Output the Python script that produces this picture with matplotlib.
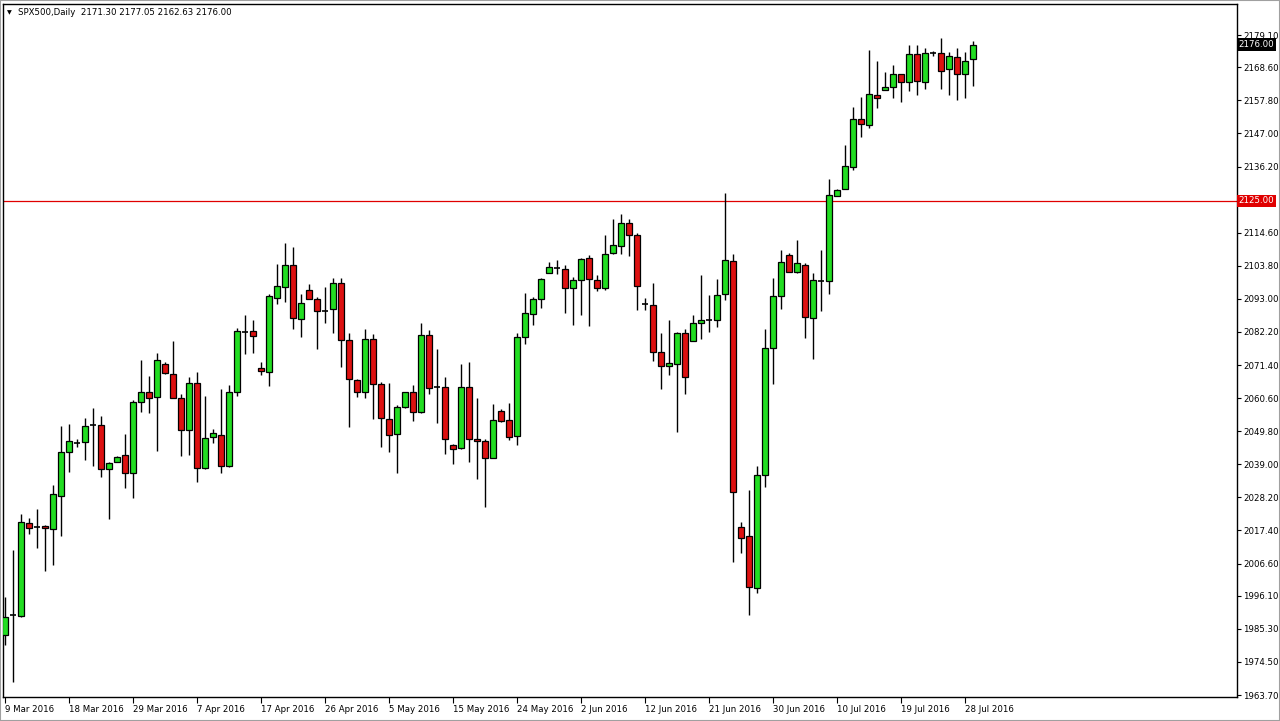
import matplotlib
matplotlib.use("Agg")
import matplotlib.pyplot as plt
from matplotlib.patches import Rectangle

plt.rcParams["font.family"] = ["DejaVu Sans"]

# ---- data ----
opens = [1983.3, 1989.7, 1989.6, 2019.7, 2018.6, 2018.9, 2018.0, 2028.7, 2042.9, 2046.1,
         2046.2, 2051.9, 2051.8, 2037.4, 2039.8, 2042.2, 2036.1, 2059.2, 2062.5, 2060.9,
         2071.9, 2068.6, 2060.8, 2050.1, 2065.7, 2037.7, 2048.0, 2048.7, 2038.5, 2062.7,
         2082.2, 2082.6, 2070.4, 2069.2, 2093.4, 2097.0, 2104.1, 2086.3, 2096.0, 2093.1,
         2089.1, 2089.6, 2098.1, 2079.5, 2066.4, 2062.7, 2079.8, 2065.1, 2053.9, 2048.8,
         2057.7, 2062.5, 2056.2, 2081.1, 2064.2, 2064.2, 2045.4, 2044.2, 2064.3, 2047.1,
         2046.5, 2041.2, 2056.4, 2053.5, 2048.3, 2080.6, 2087.9, 2093.1, 2101.5, 2103.1,
         2102.6, 2096.6, 2099.0, 2106.2, 2099.3, 2096.4, 2108.0, 2110.3, 2117.9, 2113.9,
         2091.3, 2090.9, 2075.5, 2071.2, 2071.9, 2081.7, 2079.1, 2085.0, 2086.2, 2086.0,
         2094.5, 2105.4, 2018.6, 2015.6, 1998.5, 2035.5, 2076.9, 2093.9, 2107.2, 2101.8,
         2104.2, 2086.6, 2098.9, 2098.8, 2126.7, 2128.8, 2135.9, 2151.7, 2149.6, 2159.5,
         2161.2, 2162.2, 2166.3, 2163.9, 2172.8, 2163.9, 2173.3, 2173.1, 2167.9, 2172.1,
         2166.5, 2171.30]
highs = [1995.8, 2011.0, 2022.7, 2021.6, 2024.4, 2019.2, 2032.1, 2051.5, 2052.1, 2047.2,
         2054.2, 2057.3, 2054.8, 2039.6, 2041.7, 2048.8, 2060.0, 2072.9, 2067.7, 2075.2,
         2072.3, 2079.2, 2061.9, 2067.6, 2069.0, 2061.4, 2050.5, 2063.6, 2064.9, 2083.6,
         2087.7, 2086.1, 2072.3, 2094.6, 2104.3, 2111.1, 2109.8, 2094.5, 2097.8, 2093.7,
         2097.0, 2099.7, 2099.8, 2081.8, 2066.8, 2083.1, 2081.4, 2065.9, 2065.4, 2058.5,
         2062.6, 2064.8, 2085.0, 2082.8, 2076.5, 2067.4, 2045.5, 2071.9, 2072.3, 2060.5,
         2047.1, 2058.6, 2057.1, 2059.1, 2081.7, 2094.8, 2093.7, 2099.9, 2105.1, 2105.7,
         2104.2, 2100.2, 2106.2, 2107.3, 2100.9, 2114.0, 2119.0, 2120.7, 2119.0, 2114.5,
         2093.3, 2098.1, 2081.7, 2086.1, 2082.2, 2083.2, 2087.6, 2100.8, 2094.3, 2099.5,
         2127.4, 2107.6, 2020.3, 2030.6, 2038.4, 2083.2, 2099.7, 2109.0, 2107.9, 2112.2,
         2104.6, 2101.3, 2109.0, 2132.0, 2129.0, 2143.2, 2155.6, 2159.0, 2174.2, 2170.6,
         2166.9, 2169.3, 2166.3, 2175.9, 2175.9, 2174.8, 2174.0, 2178.1, 2173.5, 2174.8,
         2173.7, 2177.05]
lows = [1980.0, 1968.0, 1989.2, 2016.1, 2011.6, 2004.3, 2006.1, 2015.7, 2036.6, 2044.7,
        2040.4, 2038.4, 2034.9, 2021.3, 2039.6, 2031.2, 2027.9, 2056.1, 2055.6, 2043.2,
        2068.4, 2060.5, 2041.8, 2042.2, 2033.1, 2037.5, 2045.8, 2036.1, 2038.2, 2061.4,
        2074.9, 2075.2, 2068.3, 2064.7, 2091.3, 2091.9, 2083.2, 2080.6, 2093.1, 2076.7,
        2085.1, 2082.0, 2070.6, 2051.3, 2061.1, 2060.7, 2053.7, 2044.7, 2043.1, 2036.0,
        2057.5, 2053.2, 2055.8, 2061.8, 2052.6, 2042.4, 2039.2, 2044.0, 2039.9, 2034.1,
        2025.2, 2041.2, 2052.9, 2046.9, 2045.3, 2078.4, 2084.5, 2089.9, 2101.3, 2101.1,
        2088.3, 2084.5, 2087.7, 2084.1, 2095.6, 2096.0, 2107.5, 2107.5, 2107.1, 2089.4,
        2089.4, 2072.8, 2063.5, 2068.3, 2049.6, 2061.8, 2079.1, 2079.8, 2082.2, 2083.8,
        2092.6, 2007.0, 2010.0, 1989.8, 1996.9, 2031.5, 2065.1, 2089.6, 2101.7, 2101.5,
        2080.1, 2073.3, 2089.0, 2094.5, 2126.7, 2128.8, 2135.1, 2145.9, 2148.8, 2155.4,
        2161.2, 2158.7, 2157.4, 2160.9, 2159.4, 2161.5, 2172.4, 2161.5, 2159.6, 2157.8,
        2158.7, 2162.63]
closes = [1989.3, 1989.7, 2020.3, 2018.3, 2018.6, 2018.2, 2029.2, 2042.9, 2046.7, 2046.1,
          2051.6, 2051.9, 2037.4, 2039.3, 2041.5, 2036.1, 2059.2, 2062.5, 2060.8, 2073.2,
          2068.9, 2060.7, 2050.1, 2065.7, 2037.7, 2047.5, 2049.2, 2038.5, 2062.5, 2082.5,
          2082.2, 2080.9, 2069.3, 2093.8, 2097.1, 2104.1, 2086.7, 2091.5, 2093.1, 2089.2,
          2089.1, 2098.1, 2079.5, 2066.7, 2062.7, 2079.8, 2065.1, 2054.2, 2048.7, 2057.7,
          2062.5, 2056.2, 2081.1, 2064.0, 2064.2, 2047.4, 2044.1, 2064.3, 2047.1, 2046.5,
          2041.2, 2053.3, 2053.2, 2048.0, 2080.4, 2088.3, 2093.1, 2099.5, 2103.3, 2103.1,
          2096.5, 2099.2, 2106.0, 2099.4, 2096.4, 2107.8, 2110.5, 2117.9, 2113.9, 2097.2,
          2091.3, 2075.5, 2071.2, 2072.1, 2081.7, 2067.4, 2085.0, 2086.0, 2086.2, 2094.3,
          2105.7, 2029.9, 2015.1, 1998.9, 2035.5, 2076.9, 2093.9, 2105.0, 2101.7, 2104.6,
          2087.0, 2099.2, 2098.9, 2126.9, 2128.4, 2136.4, 2151.7, 2150.0, 2159.8, 2158.7,
          2162.1, 2166.3, 2163.9, 2172.8, 2164.2, 2173.1, 2173.3, 2167.5, 2172.4, 2166.5,
          2170.6, 2176.00]

date_labels = ["9 Mar 2016", "18 Mar 2016", "29 Mar 2016", "7 Apr 2016", "17 Apr 2016",
               "26 Apr 2016", "5 May 2016", "15 May 2016", "24 May 2016", "2 Jun 2016",
               "12 Jun 2016", "21 Jun 2016", "30 Jun 2016", "10 Jul 2016", "19 Jul 2016",
               "28 Jul 2016"]
price_ticks = [2179.10, 2168.60, 2157.80, 2147.00, 2136.20, 2114.60, 2103.80, 2093.00,
               2082.20, 2071.40, 2060.60, 2049.80, 2039.00, 2028.20, 2017.40, 2006.60,
               1996.10, 1985.30, 1974.50, 1963.70]
level_line = 2125.00
title_text = "SPX500,Daily  2171.30 2177.05 2162.63 2176.00"

# ---- figure ----
W, H = 1280, 721
fig = plt.figure(figsize=(W / 100, H / 100), dpi=100)
fig.patch.set_facecolor("white")
ax = fig.add_axes([3 / W, 1 - 697 / H, (1237 - 3) / W, (697 - 4) / H])
ax.set_facecolor("white")

bull = "#22DD22"
bear = "#DD1111"
bw = 0.78
for i, (o, h, l, c) in enumerate(zip(opens, highs, lows, closes)):
    ax.vlines(i, l, h, color="black", lw=1.0, zorder=2)
    if abs(c - o) < 0.05:
        ax.hlines(o, i - bw / 2, i + bw / 2, color="black", lw=1.2, zorder=3)
    else:
        ax.add_patch(Rectangle((i - bw / 2, min(o, c)), bw, abs(c - o),
                               facecolor=bull if c > o else bear,
                               edgecolor="black", lw=0.9, zorder=3))

ax.axhline(level_line, color="#E00000", lw=0.9, zorder=1)

ax.set_xlim(-0.25, 154)
ax.set_ylim(1963.05, 2189.24)

fs = 6.2
ax.yaxis.tick_right()
ax.set_yticks(price_ticks)
ax.set_yticklabels([f"{v:.2f}" for v in price_ticks])
ax.tick_params(axis="y", direction="out", length=3, width=0.8, pad=1.5,
               labelsize=fs, colors="black")
ax.set_xticks(range(0, 8 * len(date_labels), 8))
ax.set_xticklabels(date_labels, ha="left")
ax.tick_params(axis="x", direction="out", length=4, width=0.8, pad=2,
               labelsize=fs, colors="black")

for s in ax.spines.values():
    s.set_color("black")
    s.set_linewidth(1.0)

# price labels on the right axis
ax.text(1.0012, level_line, f"{level_line:.2f}", transform=ax.get_yaxis_transform(),
        ha="left", va="center", fontsize=fs, color="white",
        bbox=dict(boxstyle="square,pad=0.2", facecolor="#E00000", edgecolor="none"))
ax.text(1.0012, closes[-1], f"{closes[-1]:.2f}", transform=ax.get_yaxis_transform(),
        ha="left", va="center", fontsize=fs, color="white",
        bbox=dict(boxstyle="square,pad=0.2", facecolor="black", edgecolor="none"))

# header text
ax.text(0.003, 0.988, "\u25BC", transform=ax.transAxes, ha="left", va="center",
        fontsize=4.5, color="black")
ax.text(0.0125, 0.988, title_text, transform=ax.transAxes, ha="left", va="center",
        fontsize=fs, color="black")

# outer border
fig.add_artist(Rectangle((0, 0), 1, 1, transform=fig.transFigure, fill=False,
                         edgecolor="#A0A0A0", lw=1.5))

fig.savefig("out.png", dpi=100, facecolor="white")
